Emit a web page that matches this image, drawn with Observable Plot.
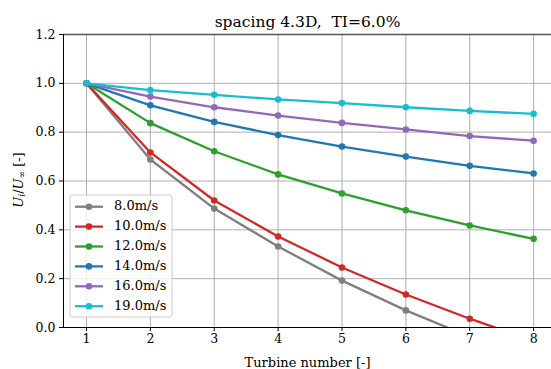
<!DOCTYPE html>
<html><head><meta charset="utf-8">
<script src="https://cdn.jsdelivr.net/npm/d3@7"></script>
<script src="https://cdn.jsdelivr.net/npm/@observablehq/plot@0.6"></script>
<style>
body{margin:0;background:#fff}
svg{display:block}
svg text{white-space:pre}
</style>
</head><body><div id="chart"></div>
<script>
const turbines = [1, 2, 3, 4, 5, 6, 7, 8];
const yTicks = [0, 0.2, 0.4, 0.6, 0.8, 1.0, 1.2];
const speeds = ["8.0m/s", "10.0m/s", "12.0m/s", "14.0m/s", "16.0m/s", "19.0m/s"];
const colors = ["#7f7f7f", "#d62728", "#2ca02c", "#1f77b4", "#9467bd", "#17becf"];
const u8  = [1.0, 0.688, 0.487, 0.332, 0.192, 0.070, -0.038, -0.145];
const u10 = [1.0, 0.717, 0.520, 0.373, 0.246, 0.135, 0.036, -0.055];
const u12 = [1.0, 0.837, 0.722, 0.627, 0.549, 0.480, 0.418, 0.363];
const u14 = [1.0, 0.910, 0.842, 0.788, 0.741, 0.700, 0.662, 0.631];
const u16 = [1.0, 0.946, 0.902, 0.868, 0.838, 0.811, 0.784, 0.765];
const u19 = [1.0, 0.972, 0.953, 0.934, 0.919, 0.902, 0.887, 0.875];
const title = "spacing 4.3D,  TI=6.0%";
const xLabel = "Turbine number [-]";

const series = [u8, u10, u12, u14, u16, u19];
const data = series.flatMap((vals, k) => vals.map((v, i) => ({t: turbines[i], v, s: speeds[k]})));

const font = "DejaVu Serif";
const marks = [
  Plot.gridX(turbines, {stroke: "#b0b0b0", strokeOpacity: 1, strokeWidth: 1}),
  Plot.gridY(yTicks, {stroke: "#b0b0b0", strokeOpacity: 1, strokeWidth: 1}),
];
speeds.forEach(s => {
  const d = data.filter(r => r.s === s);
  marks.push(Plot.line(d, {x: "t", y: "v", stroke: "s", strokeWidth: 2.3, clip: true}));
  marks.push(Plot.dot(d, {x: "t", y: "v", fill: "s", r: 3.3, clip: true}));
});
marks.push(
  Plot.ruleY([1.2], {stroke: "#555", strokeWidth: 1.5}),
  Plot.ruleY([0], {stroke: "#000", strokeWidth: 1}),
  Plot.ruleX([0.64], {stroke: "#000", strokeWidth: 1}),
  Plot.axisX(turbines, {tickSize: 4, tickPadding: 3, label: null, tickFormat: d => String(d)}),
  Plot.axisY(yTicks, {tickSize: 4, tickPadding: 4, label: null, tickFormat: d => d.toFixed(1)}),
  Plot.text([xLabel], {frameAnchor: "bottom", lineAnchor: "middle", dy: 35, fontSize: 13, text: d => d}),
  Plot.text([title], {frameAnchor: "top", lineAnchor: "middle", dy: -12, fontSize: 15.5, text: d => d})
);

const chart = Plot.plot({
  width: 551, height: 369,
  marginLeft: 63, marginRight: 0, marginTop: 34, marginBottom: 42,
  style: {fontFamily: font, fontSize: "12.5px", background: "#fff", color: "#000"},
  x: {domain: [0.64, 8.28]},
  y: {domain: [0, 1.2]},
  color: {domain: speeds, range: colors},
  marks
});
document.getElementById("chart").appendChild(chart);

const svg = d3.select(chart);
// y label with subscripts
const yl = svg.append("text")
  .attr("transform", "translate(19,180) rotate(-90)")
  .attr("text-anchor", "middle")
  .attr("dominant-baseline", "middle")
  .attr("font-family", font)
  .attr("font-size", 13)
  .attr("fill", "#000");
yl.append("tspan").attr("font-style", "italic").text("U");
yl.append("tspan").attr("font-style", "italic").attr("font-size", 9).attr("dy", 3).text("i");
yl.append("tspan").attr("dy", -3).text("/");
yl.append("tspan").attr("font-style", "italic").text("U");
yl.append("tspan").attr("font-size", 9).attr("dy", 3).text("\u221e");
yl.append("tspan").attr("dy", -3).text(" [-]");

// legend
const lg = svg.append("g").attr("font-family", font).attr("font-size", 13).attr("text-anchor", "start");
lg.append("rect").attr("x", 70).attr("y", 195).attr("width", 102).attr("height", 122)
  .attr("rx", 3).attr("fill", "#fff").attr("fill-opacity", 0.8).attr("stroke", "#ccc").attr("stroke-width", 1);
speeds.forEach((s, k) => {
  const y = 206.7 + k * 19.9;
  lg.append("line").attr("x1", 75).attr("x2", 103).attr("y1", y).attr("y2", y)
    .attr("stroke", colors[k]).attr("stroke-width", 2.3);
  lg.append("circle").attr("cx", 89).attr("cy", y).attr("r", 3.3).attr("fill", colors[k]);
  lg.append("text").attr("x", 114).attr("y", y).attr("dominant-baseline", "middle")
    .attr("text-anchor", "start").attr("fill", "#000").text(s);
});
</script>
</body></html>
